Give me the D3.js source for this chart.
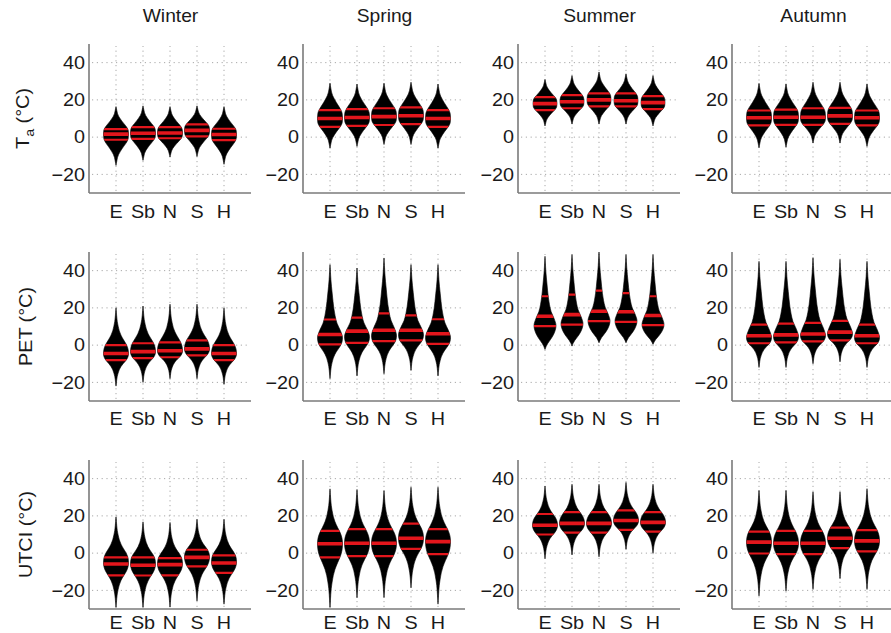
<!DOCTYPE html>
<html><head><meta charset="utf-8">
<script src="https://cdn.jsdelivr.net/npm/d3@7"></script>
<style>body{margin:0;background:#fff}</style>
</head><body><svg id="c" width="891" height="633"></svg>
<script>
// ---------------- data ----------------
const seasons = ["Winter", "Spring", "Summer", "Autumn"];
const sites = ["E", "Sb", "N", "S", "H"];
const yTicks = [-20, 0, 20, 40];
const yDomain = [-30, 50];
const variables = ["Ta", "PET", "UTCI"];

// each array: [Winter, Spring, Summer, Autumn] x [E, Sb, N, S, H]
const taMax  = [[16.4,16.8,16.4,16.8,16.4],[29,28.5,29,29.5,28.5],[31,33,35,34,33],[28.9,28.6,29.5,29.5,28.6]];
const taMin  = [[-15.2,-12.5,-10.7,-10.4,-14.6],[-6,-5,-4,-4,-6],[6,7,7,7,6],[-5.7,-5.4,-3.2,-3.2,-5]];
const taP75  = [[4.3,5.4,5.4,6.8,4.5],[14.5,15,15.5,16,14.5],[21.5,22.5,23.5,23.5,22],[14.3,14.8,15.5,15.7,14.3]];
const taMed  = [[1.6,2.1,2.2,3.6,1.4],[10,10.5,11,11.5,10],[18,19,20,19.5,18.5],[10.4,10.7,10.7,11.4,10.4]];
const taP25  = [[-1.4,-0.9,-0.6,0.4,-1.6],[5.5,6,6.5,7,5.5],[14.5,15.5,16.5,16.5,15],[6.3,6.6,6.6,7.1,6.3]];
const taMode = [[1.6,2.1,2.2,3.6,1.4],[10,10.5,11,11.5,10],[18,19,20,19.5,18.5],[10.4,10.7,10.7,11.4,10.4]];

const petMax  = [[20,21,22,22,20],[43.2,41.4,46.8,43.2,43.2],[47.7,48.6,50,48.6,48.6],[45,45,47,46,45]];
const petMin  = [[-22,-20,-18,-18,-21],[-18,-16.6,-15.4,-13.6,-16.6],[-2.3,-0.5,1.25,1.25,0.4],[-12,-12,-10,-9,-12]];
const petP75  = [[0,1,1.5,2.5,0],[13.75,14.8,17,16,13.9],[26.25,27.1,29.3,27.9,26.25],[11,11.5,12,13,11]];
const petMed  = [[-4.5,-3.5,-3,-2,-4.5],[5.7,7.5,8,8,6.1],[15.5,16.4,18.2,17.9,15.9],[5,5.5,6,7,5]];
const petP25  = [[-8,-7,-6.5,-5.5,-8],[0.4,1.25,2.1,2.5,0.7],[10.2,11,12.9,12.5,10.7],[1,1.5,2,2.5,1]];
const petMode = [[-4.5,-3.5,-3,-2,-4.5],[3.9,4.5,5,5.5,4],[10.5,11.5,13,13,11],[4,4.5,5,6,4]];

const utciMax  = [[19.5,16.8,16.5,18.2,18.2],[34.5,34.2,33.6,35.4,35.4],[36,37,37,38,37],[33.7,33.7,32.9,32.9,34.6]];
const utciMin  = [[-29.2,-29.2,-29,-25.7,-27.4],[-29.2,-24,-23.9,-18.6,-27.4],[-3,-1,-2,2,0],[-23,-20.4,-19.5,-13.7,-19.5]];
const utciP75  = [[-2.3,-2.3,-2.7,1.8,-1.2],[12,12.9,12.9,15.8,12.9],[21,22,22,23,22],[11.5,11.9,11.9,13.7,12.4]];
const utciMed  = [[-5.8,-6.5,-6.2,-2.3,-5.3],[5,5.3,5.3,8,6.2],[15,16,16,17.5,16.5],[5.9,5.3,5.3,8,6.6]];
const utciP25  = [[-11.9,-12,-11.9,-7.1,-10.6],[-2.3,-1.6,-1.6,2.3,-0.5],[10,11,11,12.5,11.5],[-0.2,-0.5,-0.5,2.7,0.9]];
const utciMode = [[-5,-5.5,-5.5,-2,-4.5],[5,5.3,5.3,8,6.2],[15,16,16,17.5,16.5],[5.9,5.3,5.3,8,6.6]];

// violin outline profiles: [fraction of distance mode->tip, relative half-width]
const profileBody  = [[0,1],[0.15,0.97],[0.25,0.86],[0.35,0.69],[0.45,0.51],[0.55,0.35],[0.65,0.21],[0.75,0.12],[0.85,0.07],[0.93,0.03],[1,0]];
const profileMid   = [[0,1],[0.1,0.96],[0.2,0.82],[0.3,0.6],[0.4,0.4],[0.5,0.26],[0.6,0.17],[0.7,0.1],[0.8,0.06],[0.9,0.03],[1,0]];
const profileLong  = [[0,1],[0.1,0.83],[0.2,0.56],[0.3,0.41],[0.4,0.31],[0.5,0.24],[0.6,0.18],[0.7,0.12],[0.8,0.07],[0.9,0.035],[1,0]];
const profileShort = [[0,1],[0.2,0.93],[0.4,0.75],[0.6,0.48],[0.75,0.25],[0.88,0.1],[1,0]];

// per variable, per season: [upper profile, lower profile]
const profiles = [
  [[profileBody,profileBody],[profileBody,profileBody],[profileBody,profileBody],[profileBody,profileBody]],
  [[profileMid,profileMid],[profileLong,profileMid],[profileLong,profileShort],[profileLong,profileMid]],
  [[profileMid,profileMid],[profileMid,profileMid],[profileMid,profileMid],[profileMid,profileMid]]
];

const stats = [
  {max: taMax, min: taMin, p75: taP75, med: taMed, p25: taP25, mode: taMode},
  {max: petMax, min: petMin, p75: petP75, med: petMed, p25: petP25, mode: petMode},
  {max: utciMax, min: utciMin, p75: utciP75, med: utciMed, p25: utciP25, mode: utciMode}
];

// ---------------- layout ----------------
const colX = [89, 303, 518, 732];
const rowTop = [44, 252, 460];
const plotW = 163, plotH = 149;
const halfW = [[12.5,12.5,12,12.5],[12.5,12.5,11,12.5],[12.5,12.5,12.5,12.5]];
const fontFam = "'Liberation Sans', Arial, sans-serif";
const stretch = 1.1;
const red = "#e3161c";

const svg = d3.select("#c");
const defs = svg.append("defs");

function stext(g, x, y, txt, anchor, size, rot) {
  return g.append("text")
    .attr("transform", `translate(${x},${y}) ${rot ? "rotate(" + rot + ")" : ""} scale(${stretch},1)`)
    .attr("text-anchor", anchor)
    .attr("font-family", fontFam)
    .attr("font-size", size)
    .attr("fill", "#1a1a1a")
    .text(txt);
}

// season titles
seasons.forEach((s, c) => {
  stext(svg, colX[c] + plotW / 2, 22, s, "middle", 17.5);
});

// y labels
const yLab0 = svg.append("text")
  .attr("transform", `translate(29,${rowTop[0] + plotH / 2}) rotate(-90) scale(${stretch},1)`)
  .attr("text-anchor", "middle").attr("font-family", fontFam).attr("font-size", 18).attr("fill", "#1a1a1a");
yLab0.append("tspan").text("T");
yLab0.append("tspan").attr("font-size", 13).attr("dy", 5).text("a");
yLab0.append("tspan").attr("dy", -5).text(" (°C)");
stext(svg, 32, rowTop[1] + plotH / 2, "PET (°C)", "middle", 18, -90);
stext(svg, 32, rowTop[2] + plotH / 2, "UTCI (°C)", "middle", 18, -90);

const labelBase = [218, 425, 629];

variables.forEach((vname, r) => {
  seasons.forEach((season, c) => {
    const g = svg.append("g");
    const x = d3.scaleLinear().domain([0, 6]).range([colX[c], colX[c] + plotW - 1]);
    const y = d3.scaleLinear().domain(yDomain).range([rowTop[r] + plotH, rowTop[r]]);
    const xr = x.range();

    // dotted grid
    g.selectAll(".hg").data(yTicks).join("line")
      .attr("x1", xr[0] + 3).attr("x2", xr[1] - 3)
      .attr("y1", d => y(d)).attr("y2", d => y(d))
      .attr("stroke", "#a8a8a8").attr("stroke-width", 1).attr("stroke-dasharray", "1.2,3.6");
    g.selectAll(".vg").data(sites).join("line")
      .attr("x1", (d, i) => x(i + 1)).attr("x2", (d, i) => x(i + 1))
      .attr("y1", y.range()[0] - 2).attr("y2", y.range()[1] + 2)
      .attr("stroke", "#a8a8a8").attr("stroke-width", 1).attr("stroke-dasharray", "1.2,3.6");

    // axes lines
    g.append("line").attr("x1", xr[0]).attr("x2", xr[0]).attr("y1", y.range()[1]).attr("y2", y.range()[0])
      .attr("stroke", "#7a7a7a").attr("stroke-width", 1.6);
    g.append("line").attr("x1", xr[0]).attr("x2", xr[1]).attr("y1", y.range()[0]).attr("y2", y.range()[0])
      .attr("stroke", "#7a7a7a").attr("stroke-width", 1.6);

    // tick labels
    yTicks.forEach(t => {
      stext(g, xr[0] - 4, y(t) + 6.3, t < 0 ? "\u2212" + Math.abs(t) : String(t), "end", 18);
    });
    sites.forEach((s, i) => {
      stext(g, x(i + 1), labelBase[r], s, "middle", 18);
    });

    // violins
    const st = stats[r];
    const [upP, loP] = profiles[r][c];
    const wScale = d3.scaleLinear().domain([0, 1]).range([0, halfW[r][c]]);
    sites.forEach((s, i) => {
      const mx = st.max[c][i], mn = st.min[c][i], mode = st.mode[c][i];
      const pts = [];
      upP.slice().reverse().forEach(([t, w]) => pts.push({v: mode + t * (mx - mode), w}));
      loP.slice(1).forEach(([t, w]) => pts.push({v: mode - t * (mode - mn), w}));
      const cx = x(i + 1);
      const area = d3.area()
        .y(d => y(d.v))
        .x0(d => cx - wScale(d.w))
        .x1(d => cx + wScale(d.w))
        .curve(d3.curveMonotoneY);
      const id = `clip-${r}-${c}-${i}`;
      defs.append("clipPath").attr("id", id).append("path").attr("d", area(pts));
      g.append("path").attr("d", area(pts)).attr("fill", "#000").attr("stroke", "#000").attr("stroke-width", 0.6);
      const lines = [[st.p75[c][i], 2.2], [st.med[c][i], 3.6], [st.p25[c][i], 2.2]];
      const lg = g.append("g").attr("clip-path", `url(#${id})`);
      lines.forEach(([v, sw]) => {
        lg.append("line").attr("x1", cx - halfW[r][c] - 2).attr("x2", cx + halfW[r][c] + 2)
          .attr("y1", y(v)).attr("y2", y(v)).attr("stroke", red).attr("stroke-width", sw);
      });
    });
  });
});
</script></body></html>
